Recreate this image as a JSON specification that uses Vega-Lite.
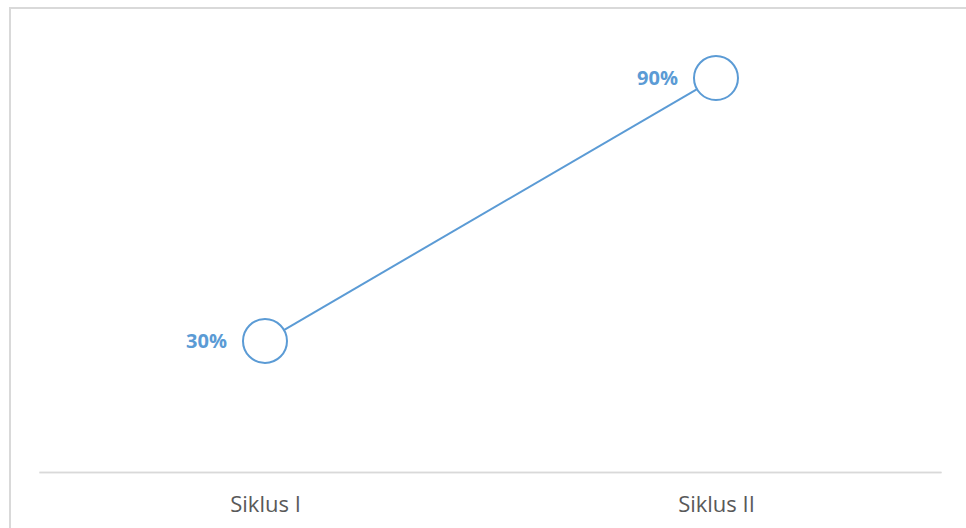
{
  "$schema": "https://vega.github.io/schema/vega-lite/v6.json",
  "autosize": {"type": "none"},
  "padding": {"left": 10, "top": 8, "right": 0, "bottom": 0},
  "width": 970,
  "height": 532,
  "background": "white",
  "config": {
    "view": {"stroke": "#d9d9d9", "strokeWidth": 2},
    "font": "Open Sans"
  },
  "data": {
    "values": [
      {"siklus": 1, "label": "Siklus I", "nilai": 0.3},
      {"siklus": 2, "label": "Siklus II", "nilai": 0.9}
    ]
  },
  "layer": [
    {
      "mark": {"type": "rule", "color": "#d9d9d9", "strokeWidth": 1.5},
      "encoding": {
        "x": {"datum": 0.5, "type": "quantitative"},
        "x2": {"datum": 2.5},
        "y": {"datum": 0, "type": "quantitative"}
      }
    },
    {
      "mark": {"type": "line", "color": "#5b9bd5", "strokeWidth": 2}
    },
    {
      "mark": {"type": "point", "shape": "circle", "size": 1936, "filled": false, "fill": "white", "fillOpacity": 1, "stroke": "#5b9bd5", "strokeWidth": 2, "opacity": 1}
    },
    {
      "mark": {"type": "text", "align": "right", "baseline": "middle", "dx": -38, "dy": 1, "fontSize": 20, "fontWeight": "bold", "color": "#5b9bd5"},
      "encoding": {
        "text": {"field": "nilai", "type": "quantitative", "format": ".0%"}
      }
    }
  ],
  "encoding": {
    "x": {
      "field": "siklus",
      "type": "quantitative",
      "scale": {"domain": [0.4346, 2.5854], "nice": false, "zero": false},
      "axis": {
        "values": [1, 2],
        "labelExpr": "datum.value == 1 ? 'Siklus I' : 'Siklus II'",
        "title": null,
        "domain": false,
        "ticks": false,
        "grid": false,
        "offset": -67.5,
        "labelPadding": 22,
        "labelFontSize": 22,
        "labelColor": "#595959",
        "labelFont": "Open Sans",
        "labelAlign": "center"
      }
    },
    "y": {
      "field": "nilai",
      "type": "quantitative",
      "scale": {"domain": [-0.154, 1.0598], "nice": false, "zero": false},
      "axis": null
    }
  }
}
